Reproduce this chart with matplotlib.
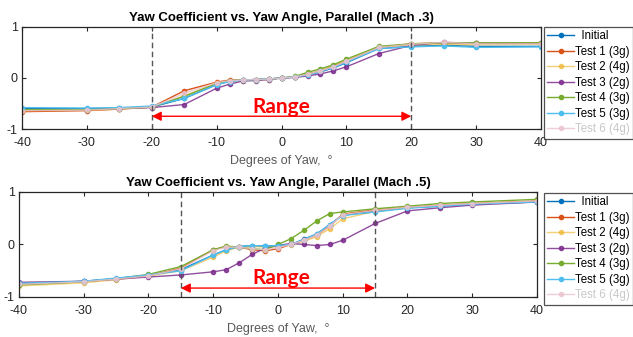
import matplotlib
matplotlib.use("Agg")
import matplotlib.pyplot as plt

plt.rcParams['font.family'] = ['Liberation Sans', 'DejaVu Sans']
plt.rcParams['axes.unicode_minus'] = False

# Yaw angles (deg) shared by every run
yaw = [-40, -30, -25, -20, -15, -10, -8, -6, -4, -2, 0, 2, 4, 6, 8, 10, 15, 20, 25, 30, 40]

labels = ['  Initial', 'Test 1 (3g)', 'Test 2 (4g)', 'Test 3 (2g)', 'Test 4 (3g)', 'Test 5 (3g)', 'Test 6 (4g)']
colors = ['#0072BD', '#D95319', '#EDB120', '#7E2F8E', '#77AC30', '#4DBEEE', '#EBC3CD']
alphas = [1.0, 1.0, 0.6, 0.85, 1.0, 1.0, 0.8]

# Mach .3 yaw coefficient
m3_initial = [-0.60, -0.60, -0.59, -0.57, -0.40, -0.13, -0.06, -0.04, -0.03, -0.02, 0.00, 0.02, 0.06, 0.12, 0.20, 0.30, 0.58, 0.62, 0.64, 0.62, 0.62]
m3_test1 = [-0.66, -0.64, -0.61, -0.57, -0.25, -0.08, -0.04, -0.04, -0.03, -0.02, 0.00, 0.02, 0.07, 0.14, 0.23, 0.33, 0.60, 0.67, 0.69, 0.68, 0.68]
m3_test2 = [-0.64, -0.63, -0.61, -0.57, -0.35, -0.10, -0.06, -0.05, -0.04, -0.03, 0.00, 0.02, 0.07, 0.15, 0.24, 0.34, 0.60, 0.65, 0.66, 0.65, 0.66]
m3_test3 = [-0.62, -0.62, -0.60, -0.58, -0.52, -0.20, -0.12, -0.06, -0.05, -0.03, 0.00, 0.01, 0.04, 0.08, 0.14, 0.22, 0.48, 0.64, 0.70, 0.68, 0.68]
m3_test4 = [-0.62, -0.62, -0.60, -0.57, -0.36, -0.11, -0.05, -0.04, -0.03, -0.02, 0.00, 0.03, 0.11, 0.18, 0.26, 0.37, 0.62, 0.67, 0.69, 0.69, 0.69]
m3_test5 = [-0.58, -0.59, -0.58, -0.55, -0.40, -0.13, -0.07, -0.04, -0.03, -0.02, 0.00, 0.02, 0.06, 0.13, 0.21, 0.31, 0.58, 0.61, 0.63, 0.60, 0.61]
m3_test6 = [-0.64, -0.63, -0.60, -0.57, -0.30, -0.09, -0.05, -0.04, -0.03, -0.02, 0.00, 0.02, 0.07, 0.14, 0.22, 0.33, 0.60, 0.66, 0.70, 0.67, 0.67]

# Mach .5 yaw coefficient
m5_initial = [-0.75, -0.70, -0.65, -0.59, -0.48, -0.20, -0.10, -0.04, -0.02, -0.03, -0.02, 0.00, 0.10, 0.20, 0.38, 0.56, 0.63, 0.70, 0.73, 0.77, 0.81]
m5_test1 = [-0.76, -0.71, -0.66, -0.60, -0.45, -0.10, -0.04, -0.05, -0.10, -0.12, -0.08, 0.00, 0.08, 0.18, 0.35, 0.58, 0.66, 0.71, 0.75, 0.78, 0.83]
m5_test2 = [-0.79, -0.73, -0.67, -0.60, -0.50, -0.24, -0.12, -0.05, -0.04, -0.05, -0.04, -0.01, 0.06, 0.15, 0.30, 0.49, 0.63, 0.70, 0.74, 0.78, 0.82]
m5_test3 = [-0.72, -0.70, -0.66, -0.62, -0.58, -0.52, -0.48, -0.35, -0.19, -0.07, -0.02, 0.02, 0.00, -0.02, 0.00, 0.08, 0.40, 0.64, 0.70, 0.75, 0.81]
m5_test4 = [-0.77, -0.71, -0.65, -0.57, -0.42, -0.10, -0.03, -0.05, -0.08, -0.10, 0.00, 0.11, 0.27, 0.45, 0.59, 0.62, 0.68, 0.73, 0.78, 0.81, 0.86]
m5_test5 = [-0.74, -0.70, -0.64, -0.58, -0.50, -0.20, -0.10, -0.04, -0.02, -0.03, -0.02, 0.00, 0.09, 0.20, 0.38, 0.55, 0.62, 0.69, 0.73, 0.77, 0.81]
m5_test6 = [-0.76, -0.71, -0.66, -0.60, -0.46, -0.12, -0.05, -0.05, -0.08, -0.10, -0.06, 0.00, 0.08, 0.18, 0.35, 0.57, 0.65, 0.71, 0.75, 0.78, 0.83]

mach3 = [m3_initial, m3_test1, m3_test2, m3_test3, m3_test4, m3_test5, m3_test6]
mach5 = [m5_initial, m5_test1, m5_test2, m5_test3, m5_test4, m5_test5, m5_test6]

fig = plt.figure(figsize=(6.33, 3.37), dpi=100)
ax1 = fig.add_axes([0.0348, 0.6172, 0.820, 0.3027])
ax2 = fig.add_axes([0.030, 0.1187, 0.8183, 0.3116])


def draw_panel(ax, runs, title, lim, range_y, text_y, text_x, legend_top):
    lines = []
    for vals, lab, c, a in zip(runs, labels, colors, alphas):
        ln, = ax.plot(yaw, vals, '-o', color=c, alpha=a, lw=1.0, ms=3,
                      mfc=c, mec=c, label=lab)
        lines.append(ln)
    # dashed limits of the usable yaw range
    for v in (-lim, lim):
        ax.axvline(v, color='#555555', ls='--', lw=1.0, dashes=(4, 2.5))
    ax.annotate('', xy=(-lim, range_y), xytext=(lim, range_y),
                arrowprops=dict(arrowstyle='<|-|>', color='#FF0000', lw=1.0,
                                mutation_scale=14, shrinkA=0, shrinkB=0))
    ax.text(text_x, text_y, 'Range', color='#FF0000', fontsize=15,
            fontweight='bold', family=['Lato', 'DejaVu Sans'],
            ha='center', va='center')
    ax.set_xlim(-40, 40)
    ax.set_ylim(-1, 1)
    ax.set_xticks([-40, -30, -20, -10, 0, 10, 20, 30, 40])
    ax.set_yticks([-1, 0, 1])
    ax.tick_params(direction='in', length=3, width=0.8, top=True, right=True,
                   labelsize=9, colors='#262626')
    ax.tick_params(axis='x', pad=6)
    ax.tick_params(axis='y', pad=3)
    for s in ax.spines.values():
        s.set_color('#262626')
        s.set_linewidth(0.9)
    ax.set_title(title, fontsize=9.5, fontweight='bold', pad=4)
    ax.set_xlabel('Degrees of Yaw,  °', fontsize=9, color='#595959', labelpad=4)
    leg = fig.legend(handles=lines, loc='upper left',
                     bbox_to_anchor=(544 / 633, legend_top), fontsize=8.3,
                     frameon=True, fancybox=False, handlelength=2.3,
                     handletextpad=0.1, labelspacing=0.3, borderpad=0.3,
                     borderaxespad=0)
    leg.get_frame().set_edgecolor('#262626')
    leg.get_frame().set_linewidth(0.9)
    leg.get_texts()[-1].set_color('#C8C8C8')


draw_panel(ax1, mach3, 'Yaw Coefficient vs. Yaw Angle, Parallel (Mach .3)',
           20, -0.75, -0.56, 0, 1 - 27 / 337)
draw_panel(ax2, mach5, 'Yaw Coefficient vs. Yaw Angle, Parallel (Mach .5)',
           15, -0.83, -0.64, 0.5, 1 - 193 / 337)

fig.savefig('out.png', dpi=100)
